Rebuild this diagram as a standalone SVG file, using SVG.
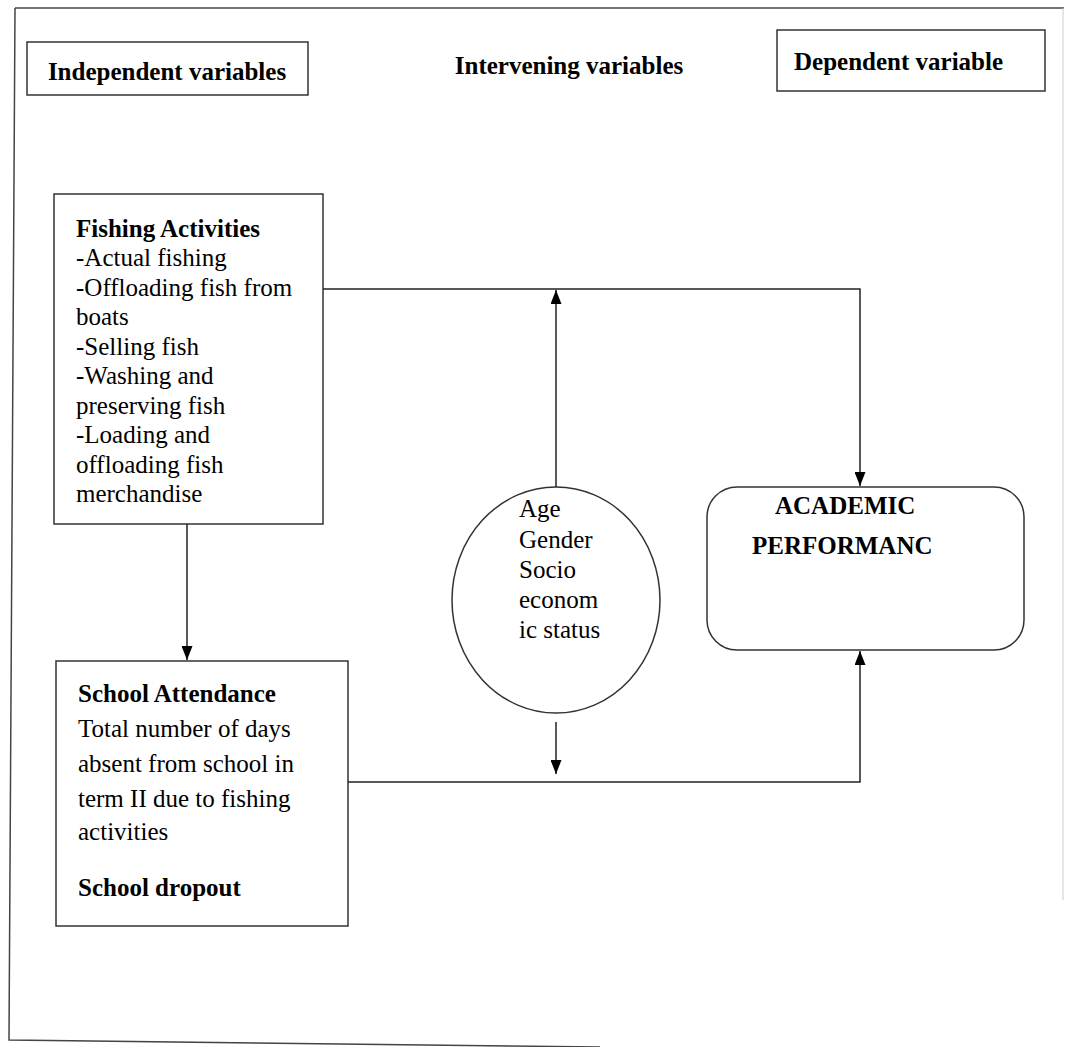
<svg xmlns="http://www.w3.org/2000/svg" width="1066" height="1047" viewBox="0 0 1066 1047">
<defs>
<style>
.t{font-family:"Liberation Serif","DejaVu Serif","Times New Roman",serif;font-size:25px;fill:#000}
.b{font-weight:bold}
.box{fill:#fff;stroke:#333;stroke-width:1.5}
.ln{fill:none;stroke:#222;stroke-width:1.5}
</style>
<marker id="ah" viewBox="0 0 10 10" refX="10" refY="5" markerWidth="14" markerHeight="11" preserveAspectRatio="none" markerUnits="userSpaceOnUse" orient="auto">
<path d="M0,0 L10,5 L0,10 z" fill="#000"/>
</marker>
</defs>
<rect width="1066" height="1047" fill="#fff"/>
<g id="frame">
<path d="M15,8 L1064,8" stroke="#444" stroke-width="1.5" fill="none"/>
<path d="M15,8 L9,1040 L600,1047" stroke="#444" stroke-width="1.5" fill="none"/>
<path d="M1063,8 L1063,900" stroke="#ccc" stroke-width="1" fill="none"/>
</g>
<g id="independent-label">
<rect class="box" x="27" y="42" width="281" height="53"/>
<text class="t b" x="167" y="80" text-anchor="middle">Independent variables</text>
</g>
<g id="intervening-label">
<text class="t b" x="569" y="74" text-anchor="middle">Intervening variables</text>
</g>
<g id="dependent-label">
<rect class="box" x="777" y="30" width="268" height="61"/>
<text class="t b" x="794" y="70">Dependent variable</text>
</g>
<g id="fishing">
<rect class="box" x="54" y="194" width="269" height="330"/>
<text class="t">
<tspan class="b" x="76" y="237">Fishing Activities</tspan>
<tspan x="76" y="266">-Actual fishing</tspan>
<tspan x="76" y="296">-Offloading fish  from</tspan>
<tspan x="76" y="325">boats</tspan>
<tspan x="76" y="355">-Selling fish</tspan>
<tspan x="76" y="384">-Washing and</tspan>
<tspan x="76" y="414">preserving fish</tspan>
<tspan x="76" y="443">-Loading and</tspan>
<tspan x="76" y="473">offloading fish</tspan>
<tspan x="76" y="502">merchandise</tspan>
</text>
</g>
<g id="attendance">
<rect class="box" x="56" y="661" width="292" height="265"/>
<text class="t">
<tspan class="b" x="78" y="702">School Attendance</tspan>
<tspan x="78" y="737">Total number of days</tspan>
<tspan x="78" y="772">absent from school in</tspan>
<tspan x="78" y="807">term II due to fishing</tspan>
<tspan x="78" y="840">activities</tspan>
<tspan class="b" x="78" y="896">School dropout</tspan>
</text>
</g>
<g id="intervening">
<ellipse class="box" cx="556" cy="600" rx="104" ry="113"/>
<text class="t">
<tspan x="519" y="517">Age</tspan>
<tspan x="519" y="548">Gender</tspan>
<tspan x="519" y="578">Socio</tspan>
<tspan x="519" y="608">econom</tspan>
<tspan x="519" y="638">ic status</tspan>
</text>
</g>
<g id="academic">
<rect class="box" x="707" y="487" width="317" height="163" rx="30" ry="30"/>
<text class="t b">
<tspan x="775" y="514">ACADEMIC</tspan>
<tspan x="752" y="554">PERFORMANC</tspan>
</text>
</g>
<g id="connectors">
<path class="ln" d="M323,289 L860,289 L860,486" marker-end="url(#ah)"/>
<path class="ln" d="M556,487 L556,290" marker-end="url(#ah)"/>
<path class="ln" d="M187,524 L187,660" marker-end="url(#ah)"/>
<path class="ln" d="M348,782 L860,782 L860,651" marker-end="url(#ah)"/>
<path class="ln" d="M556,722 L556,774" marker-end="url(#ah)"/>
</g>
</svg>
